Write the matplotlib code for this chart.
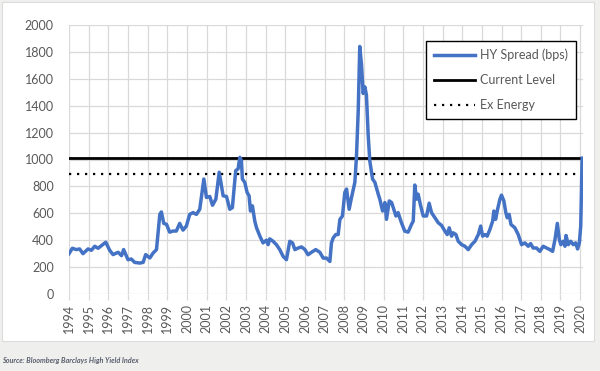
import matplotlib
matplotlib.use("Agg")
import matplotlib.pyplot as plt
from matplotlib.patches import Rectangle

plt.rcParams['font.family'] = ['Lato', 'DejaVu Sans']

# --- data (decimal year, HY spread in bps) ---
dates = [
    1994.00, 1994.17, 1994.37, 1994.54, 1994.71, 1994.97, 1995.14, 1995.31, 1995.48, 1995.65,
    1995.87, 1996.07, 1996.24, 1996.50, 1996.67, 1996.78, 1997.00, 1997.17, 1997.34, 1997.60,
    1997.77, 1997.90, 1998.11, 1998.28, 1998.45, 1998.62, 1998.70, 1998.82, 1998.96, 1999.12,
    1999.29, 1999.46, 1999.63, 1999.80, 1999.97, 2000.14, 2000.31, 2000.48, 2000.65, 2000.86,
    2000.99, 2001.16, 2001.30, 2001.47, 2001.64, 2001.84, 2002.01, 2002.18, 2002.31, 2002.48,
    2002.60, 2002.69, 2002.77, 2002.82, 2002.94, 2003.06, 2003.16, 2003.23, 2003.33, 2003.45,
    2003.54, 2003.71, 2003.87, 2004.04, 2004.13, 2004.21, 2004.38, 2004.55, 2004.72, 2004.89,
    2005.06, 2005.23, 2005.37, 2005.49, 2005.66, 2005.83, 2006.00, 2006.16, 2006.33, 2006.55,
    2006.76, 2006.93, 2007.10, 2007.27, 2007.35, 2007.44, 2007.57, 2007.69, 2007.78, 2007.91,
    2008.03, 2008.12, 2008.25, 2008.37, 2008.54, 2008.62, 2008.71, 2008.79, 2008.88, 2008.96,
    2009.05, 2009.13, 2009.22, 2009.30, 2009.44, 2009.56, 2009.73, 2009.81, 2009.95, 2010.07,
    2010.15, 2010.29, 2010.41, 2010.52, 2010.63, 2010.74, 2010.91, 2011.08, 2011.25, 2011.42,
    2011.51, 2011.59, 2011.68, 2011.76, 2011.88, 2012.02, 2012.19, 2012.32, 2012.44, 2012.61,
    2012.78, 2012.95, 2013.12, 2013.24, 2013.34, 2013.46, 2013.54, 2013.68, 2013.80, 2013.97,
    2014.14, 2014.31, 2014.48, 2014.65, 2014.82, 2014.94, 2015.04, 2015.16, 2015.27, 2015.41,
    2015.55, 2015.61, 2015.70, 2015.80, 2015.92, 2016.00, 2016.12, 2016.22, 2016.29, 2016.39,
    2016.48, 2016.68, 2016.85, 2017.02, 2017.19, 2017.36, 2017.48, 2017.61, 2017.78, 2017.95,
    2018.12, 2018.29, 2018.46, 2018.60, 2018.72, 2018.84, 2018.94, 2019.02, 2019.14, 2019.23,
    2019.28, 2019.40, 2019.52, 2019.65, 2019.77, 2019.87, 2019.96, 2020.03, 2020.10,
]
hy_spread = [
    300, 340, 330, 335, 300, 335, 325, 355, 340, 360,
    385, 325, 293, 310, 285, 330, 255, 260, 235, 230,
    235, 293, 268, 305, 330, 592, 610, 525, 518, 460,
    468, 468, 525, 475, 505, 592, 605, 592, 630, 855,
    718, 725, 660, 705, 905, 730, 725, 630, 642, 917,
    930, 1016, 990, 855, 830, 755, 730, 617, 655, 542,
    492, 430, 380, 400, 367, 410, 392, 367, 330, 280,
    255, 392, 380, 330, 342, 350, 330, 292, 310, 330,
    310, 267, 267, 242, 380, 417, 442, 442, 555, 580,
    755, 780, 630, 717, 830, 1016, 1353, 1840, 1703, 1491,
    1540, 1478, 1178, 990, 855, 830, 742, 705, 617, 680,
    555, 692, 680, 630, 580, 605, 530, 467, 460, 517,
    542, 810, 705, 742, 660, 580, 580, 675, 605, 567,
    530, 510, 468, 442, 492, 430, 455, 442, 392, 367,
    355, 330, 367, 392, 442, 505, 430, 442, 430, 480,
    542, 617, 555, 630, 705, 735, 692, 605, 567, 592,
    517, 492, 442, 367, 380, 355, 375, 342, 342, 317,
    355, 342, 330, 317, 405, 525, 405, 367, 392, 355,
    435, 367, 392, 367, 380, 335, 380, 505, 1010,
]
current_level = 1010
ex_energy = 890
year_ticks = list(range(1994, 2021))
y_ticks = list(range(0, 2001, 200))
source_text = "Source: Bloomberg Barclays High Yield Index"

W, H = 600, 371
fig = plt.figure(figsize=(W / 100, H / 100), dpi=100)
fig.patch.set_facecolor('#efefed')
fig.patches.append(Rectangle((2 / W, 1 - 341 / H), 592 / W, 339 / H,
                             transform=fig.transFigure, facecolor='white',
                             edgecolor='#dcdcdc', linewidth=0.8, zorder=-10))

ax = fig.add_axes([69 / W, 1 - 294 / H, (582.7 - 69) / W, (294 - 25) / H])
ax.set_facecolor('none')

grid_c = '#d9d9d9'
ax.set_xlim(1994, 2020.13)
ax.set_ylim(0, 2000)
ax.set_xticks(year_ticks)
ax.set_xticklabels([str(y) for y in year_ticks], rotation=90)
ax.set_yticks(y_ticks)
ax.grid(True, color=grid_c, linewidth=0.9, zorder=1)
for s in ax.spines.values():
    s.set_visible(False)
ax.tick_params(axis='x', length=4, width=0.9, color=grid_c, pad=3,
               labelsize=9, labelcolor='#595959')
ax.tick_params(axis='y', length=0, pad=11, labelsize=9, labelcolor='#595959')

ax.plot(dates, hy_spread, color='#4472C4', lw=2.5, label='HY Spread (bps)',
        zorder=4, solid_joinstyle='round')
ax.axhline(current_level, color='black', lw=2.0, label='Current Level', zorder=3)
ax.axhline(ex_energy, color='black', lw=1.6, linestyle=(0, (1, 2.6)),
           label='Ex Energy', zorder=3)

leg = ax.legend(loc='upper left', bbox_to_anchor=(426 / W, 1 - 41 / H),
                bbox_transform=fig.transFigure, frameon=True, fancybox=False,
                edgecolor='black', framealpha=1, fontsize=9,
                handlelength=3.3, handletextpad=0.45, labelspacing=1.05,
                borderpad=0.6, borderaxespad=0)
leg.get_frame().set_linewidth(1.0)
for t in leg.get_texts():
    t.set_color('#595959')

fig.text(2 / W, 1 - 360 / H, source_text, fontsize=5.2, style='italic',
         weight='bold', color='#5a5f6e', va='center', ha='left')

fig.savefig('out.png', dpi=100, facecolor=fig.get_facecolor())
